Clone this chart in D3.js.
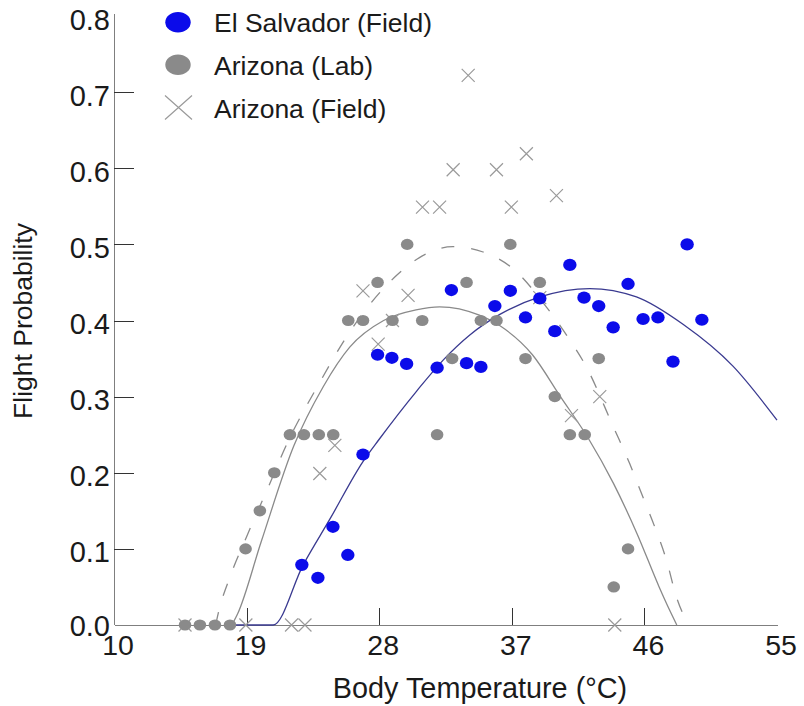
<!DOCTYPE html>
<html>
<head>
<meta charset="utf-8">
<script src="https://cdnjs.cloudflare.com/ajax/libs/d3/7.8.5/d3.min.js"></script>
<style>
    body { margin: 0; background: #fff; }
    svg text { font-family: "Liberation Sans", Arial, sans-serif; fill: #1a1a1a; }
    .axis path, .axis line { stroke: #7f7f7f; shape-rendering: crispEdges; }
    .axis .tick line { stroke: #333; }
</style>
</head>
<body>
<svg id="chart" width="804" height="706"></svg>
<script>
// values
var xTicks = [10, 19, 28, 37, 46, 55];
var yTicks = [0, 0.1, 0.2, 0.3, 0.4, 0.5, 0.6, 0.7, 0.8];
var seriesNames = ['El Salvador (Field)', 'Arizona (Lab)', 'Arizona (Field)'];

var esTemp = [22.75, 23.84, 24.86, 25.87, 26.9, 27.89, 28.86, 29.86, 31.93, 32.9, 33.93, 34.9, 35.85, 36.9,
    37.93, 38.9, 39.92, 40.94, 41.9, 42.9, 43.88, 44.89, 45.91, 46.92, 47.94, 48.9, 49.9];
var esProb = [0.079, 0.062, 0.129, 0.092, 0.224, 0.355, 0.351, 0.343, 0.338, 0.44, 0.344, 0.339, 0.419, 0.439,
    0.404, 0.429, 0.386, 0.473, 0.43, 0.419, 0.391, 0.448, 0.402, 0.404, 0.346, 0.5, 0.401];

var labTemp = [14.82, 15.83, 16.85, 17.87, 18.93, 19.9, 20.88, 21.94, 22.89, 23.9, 24.88, 25.9, 26.9, 27.89, 28.9,
    29.9, 30.92, 31.93, 32.95, 33.93, 34.9, 35.96, 36.9, 37.93, 38.9, 39.92, 40.94, 41.95, 42.9, 43.92, 44.89];
var labProb = [0, 0, 0, 0, 0.1, 0.15, 0.2, 0.25, 0.25, 0.25, 0.25, 0.4, 0.4, 0.45, 0.4,
    0.5, 0.4, 0.25, 0.35, 0.45, 0.4, 0.4, 0.5, 0.35, 0.45, 0.3, 0.25, 0.25, 0.35, 0.05, 0.1];

var fieldTemp = [14.82, 18.95, 22.05, 22.96, 23.97, 24.99, 26.9, 27.93, 28.9, 29.96, 30.94, 32.1, 33.02, 34.04,
    35.96, 36.97, 37.99, 38.9, 40.03, 41.05, 42.97, 43.99];
var fieldProb = [0, 0, 0, 0, 0.199, 0.236, 0.439, 0.369, 0.4, 0.433, 0.549, 0.549, 0.598, 0.722,
    0.598, 0.549, 0.619, 0.43, 0.564, 0.275, 0.3, 0];

// fitted curves
var esFitTemp = [18, 20.8, 22.84, 24.65, 26.91, 28.0, 30.53, 32.34, 34.15, 36.19, 38.9, 42.29, 45.46, 48.62, 52.01, 55];
var esFitProb = [0, 0, 0.079, 0.139, 0.215, 0.244, 0.307, 0.348, 0.381, 0.408, 0.431, 0.442, 0.431, 0.395, 0.34, 0.269];

var labFitTemp = [18.0, 18.4, 20.0, 22.2, 24.2, 26.0, 28.3, 30.5, 32.1, 34.8, 36.2, 38.4, 40.3, 42.2, 43.9, 45.5, 47.0, 47.7, 48.2];
var labFitProb = [0, 0.015, 0.11, 0.235, 0.313, 0.365, 0.40, 0.414, 0.418, 0.407, 0.393, 0.355, 0.30, 0.245, 0.186, 0.12, 0.05, 0.02, 0];

var fieldFitTemp = [16.9, 17.07, 17.87, 19.0, 20.58, 21.5, 24.0, 26.0, 29.17, 30.76, 33.0, 35.05, 37.08, 39.34, 40.81,
    42.06, 43.9, 45.0, 45.9, 46.7, 47.5, 48.17, 49.0];
var fieldFitProb = [0, 0.015, 0.063, 0.116, 0.186, 0.228, 0.32, 0.385, 0.459, 0.483, 0.497, 0.49, 0.468, 0.418, 0.378,
    0.339, 0.26, 0.212, 0.168, 0.129, 0.085, 0.037, 0];

var blue = '#0b0bea';
var grey = '#8a8a8a';
var crossGrey = '#9a9a9a';

var svg = d3.select('#chart');

var x = d3.scaleLinear().domain([10, 55]).range([114, 777]);
var y = d3.scaleLinear().domain([0, 0.8]).range([625, 16]);

var zip = (xs, ys) => xs.map((t, i) => ({ t: t, p: ys[i] }));

// axes
var yAxis = svg.append('g')
    .attr('class', 'axis')
    .attr('transform', 'translate(114, 0)')
    .call(d3.axisLeft(y).tickValues(yTicks).tickFormat(d3.format('.1f')).tickSizeInner(-20).tickSizeOuter(0).tickPadding(4))
;
yAxis.select('.domain').attr('d', 'M0,14V625');
yAxis.selectAll('.tick')
    .filter(d => d === 0 || d === 0.8)
    .select('line').remove()
;
yAxis.selectAll('.tick text')
    .attr('dy', null)
    .attr('y', d => d === 0 ? 10 : 13)
    .style('font-size', '29px')
;

var xAxis = svg.append('g')
    .attr('class', 'axis')
    .attr('transform', 'translate(0, 625)')
    .call(d3.axisBottom(x).tickValues(xTicks).tickSizeInner(-17).tickSizeOuter(0).tickPadding(10))
;
xAxis.selectAll('.tick')
    .filter(d => d === 10 || d === 55)
    .select('line').remove()
;
xAxis.selectAll('.tick text')
    .attr('dx', 3.5)
    .style('font-size', '28.5px')
;

svg.append('text')
    .attr('text-anchor', 'middle')
    .attr('x', 480)
    .attr('y', 698)
    .style('font-size', '28.8px')
    .text('Body Temperature (°C)')
;

svg.append('text')
    .attr('text-anchor', 'middle')
    .attr('transform', 'translate(32, 321) rotate(-90)')
    .style('font-size', '26.5px')
    .text('Flight Probability')
;

// fitted curves
var line = d3.line()
    .x(d => x(d.t))
    .y(d => y(d.p))
    .curve(d3.curveMonotoneX)
;

svg.append('path')
    .attr('d', line(zip(labFitTemp, labFitProb)))
    .attr('fill', 'none')
    .attr('stroke', grey)
    .attr('stroke-width', 1.3)
;

svg.append('path')
    .attr('d', line(zip(fieldFitTemp, fieldFitProb)))
    .attr('fill', 'none')
    .attr('stroke', grey)
    .attr('stroke-width', 1.3)
    .attr('stroke-dasharray', '13,17')
;

svg.append('path')
    .attr('d', line(zip(esFitTemp, esFitProb)))
    .attr('fill', 'none')
    .attr('stroke', '#3a3a90')
    .attr('stroke-width', 1.3)
;

// points
var crossPath = (cx, cy, s) => `M${cx - s},${cy - s}L${cx + s},${cy + s}M${cx - s},${cy + s}L${cx + s},${cy - s}`;

svg.append('g').selectAll('path')
    .data(zip(fieldTemp, fieldProb))
    .enter().append('path')
    .attr('d', d => crossPath(x(d.t), y(d.p), 6.5))
    .attr('stroke', crossGrey)
    .attr('stroke-width', 1.2)
    .attr('fill', 'none')
;

svg.append('g').selectAll('ellipse')
    .data(zip(labTemp, labProb))
    .enter().append('ellipse')
    .attr('cx', d => x(d.t))
    .attr('cy', d => y(d.p))
    .attr('rx', 6.3)
    .attr('ry', 5.6)
    .attr('fill', grey)
;

svg.append('g').selectAll('ellipse')
    .data(zip(esTemp, esProb))
    .enter().append('ellipse')
    .attr('cx', d => x(d.t))
    .attr('cy', d => y(d.p))
    .attr('rx', 6.7)
    .attr('ry', 6.1)
    .attr('fill', blue)
;

// legend
var legend = svg.append('g').attr('class', 'legend');
var legendY = [22.3, 64.7, 107.5];

legend.selectAll('g')
    .data(seriesNames)
    .enter().append('g')
    .attr('transform', (name, i) => `translate(178, ${ legendY[i] })`)
    .each(function (name, i) {
        var _this = d3.select(this);

        if (i < 2) {
            _this.append('ellipse')
                .attr('rx', 12.7)
                .attr('ry', 10.2)
                .attr('fill', i === 0 ? blue : grey)
            ;
        } else {
            _this.append('path')
                .attr('d', 'M-13,-12L14,12M-13,12L14,-12')
                .attr('stroke', crossGrey)
                .attr('stroke-width', 1.2)
            ;
        }

        _this.append('text')
            .attr('x', 36)
            .attr('y', 10)
            .style('font-size', '26.5px')
            .text(name)
        ;
    })
;
</script>
</body>
</html>
